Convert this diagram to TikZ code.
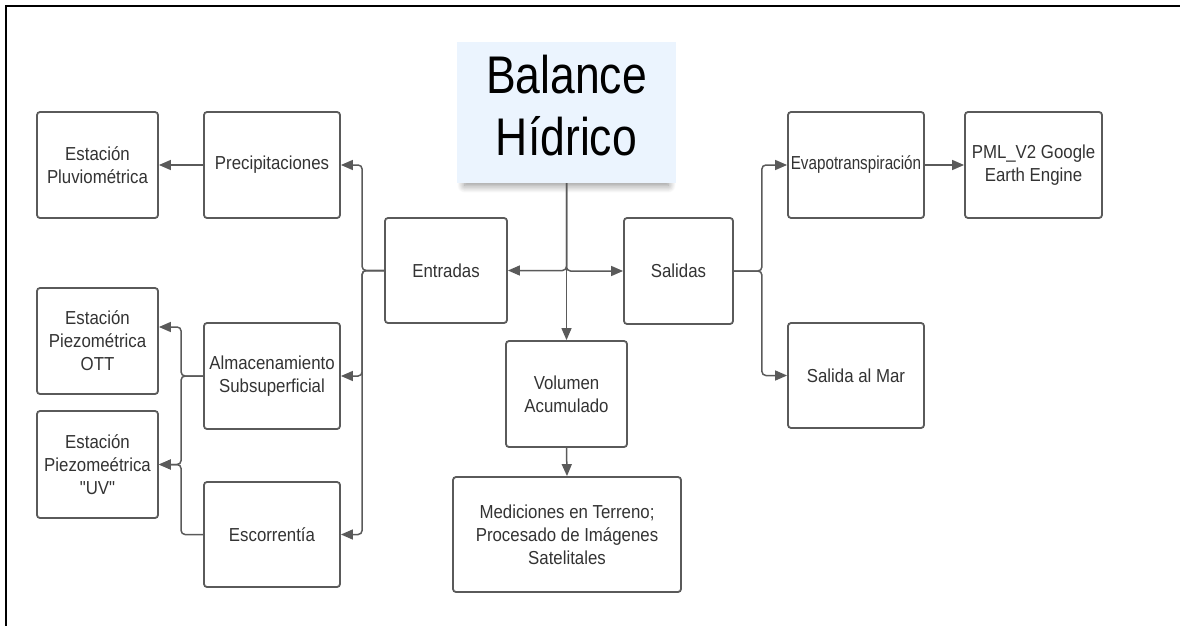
\documentclass[tikz,border=0pt]{standalone}
\usepackage{fontspec}
\setmainfont{Liberation Sans}[FakeStretch=0.895]
\newfontfamily\evapfont{Liberation Sans}[FakeStretch=0.81]
\newfontfamily\quotefont{Liberation Sans}[FakeStretch=0.895, Ligatures=TeXOff]
\newfontfamily\titlefont{Liberation Sans}[FakeStretch=0.84]
\usetikzlibrary{arrows.meta,shadows.blur}
\definecolor{edge}{HTML}{5A5A5A}
\definecolor{txt}{HTML}{333333}
\definecolor{titlefill}{HTML}{EBF4FE}
\begin{document}
\begin{tikzpicture}[x=1pt,y=-1pt,
  box/.style={draw=edge, line width=1.8pt, rounded corners=3pt, fill=white, text=txt,
    align=center, inner sep=0pt, font=\fontsize{18.8}{23}\selectfont},
  link/.style={draw=edge, line width=1.5pt, rounded corners=4pt,
    -{Triangle[length=12pt,width=10pt]}},
]
\useasboundingbox (0,0) rectangle (1180,626);
\draw[line width=2pt] (6,626) -- (6,6) -- (1180,6);

% title
\node[fill=titlefill, minimum width=219pt, minimum height=141pt, inner sep=0pt, align=center,
  text depth=14pt,
  font=\titlefont\fontsize{53}{62}\selectfont,
  blur shadow={shadow xshift=0pt, shadow yshift=-8pt, shadow scale=0.93, shadow opacity=45, shadow blur steps=12, shadow blur radius=8pt}]
  (title) at (566.5,112.5) {Balance\\Hídrico};

% boxes
\node[box, minimum width=121pt, minimum height=106pt] (pluv) at (97.5,165) {Estación\\Pluviométrica};
\node[box, minimum width=136pt, minimum height=106pt] (prec) at (272,165) {Precipitaciones};
\node[box, minimum width=122pt, minimum height=105pt] (entr) at (446,270.5) {Entradas};
\node[box, minimum width=109pt, minimum height=106pt] (sal) at (678.5,271) {Salidas};
\node[box, minimum width=136pt, minimum height=106pt] (evap) at (856,165) {\evapfont Evapotranspiración};
\node[box, minimum width=137pt, minimum height=106pt] (pml) at (1033.5,165) {PML\_V2 Google\\Earth Engine};
\node[box, minimum width=136pt, minimum height=105pt] (mar) at (856,375.5) {Salida al Mar};
\node[box, minimum width=121pt, minimum height=106pt] (ott) at (97.5,341) {Estación\\Piezométrica\\OTT};
\node[box, minimum width=136pt, minimum height=106pt] (alm) at (272,376) {Almacenamiento\\Subsuperficial};
\node[box, minimum width=121pt, minimum height=107pt] (uv) at (97.5,464.5) {Estación\\Piezomeétrica\\{\quotefont "UV"}};
\node[box, minimum width=136pt, minimum height=105pt] (esc) at (272,534.5) {Escorrentía};
\node[box, minimum width=121pt, minimum height=106pt] (vol) at (566.5,394) {Volumen\\Acumulado};
\node[box, minimum width=228pt, minimum height=115pt] (med) at (567,534.5) {Mediciones en Terreno;\\Procesado de Imágenes\\Satelitales};

% connectors
\draw[link] (prec.west) -- (pluv.east);
\draw[link] (entr.west) -- ++(-22,0) |- (prec.east);
\draw[link] (entr.west) -- ++(-22,0) |- (alm.east);
\draw[link] (entr.west) -- ++(-22,0) |- (esc.east);
\draw[link] (alm.west) -- ++(-22,0) |- ([yshift=14pt]ott.east);
\draw[link] (alm.west) -- ++(-22,0) |- (uv.east);
\draw[link] (esc.west) -- ++(-22,0) |- (uv.east);
\draw[link, line width=1.3pt] (title.south) -- (vol.north);
\draw[link] (title.south) |- (entr.east);
\draw[link] (title.south) |- (sal.west);
\draw[link] (vol.south) -- (med.north);
\draw[link] (sal.east) -- ++(28,0) |- (evap.west);
\draw[link] (sal.east) -- ++(28,0) |- (mar.west);
\draw[link] (evap.east) -- (pml.west);
\end{tikzpicture}
\end{document}
